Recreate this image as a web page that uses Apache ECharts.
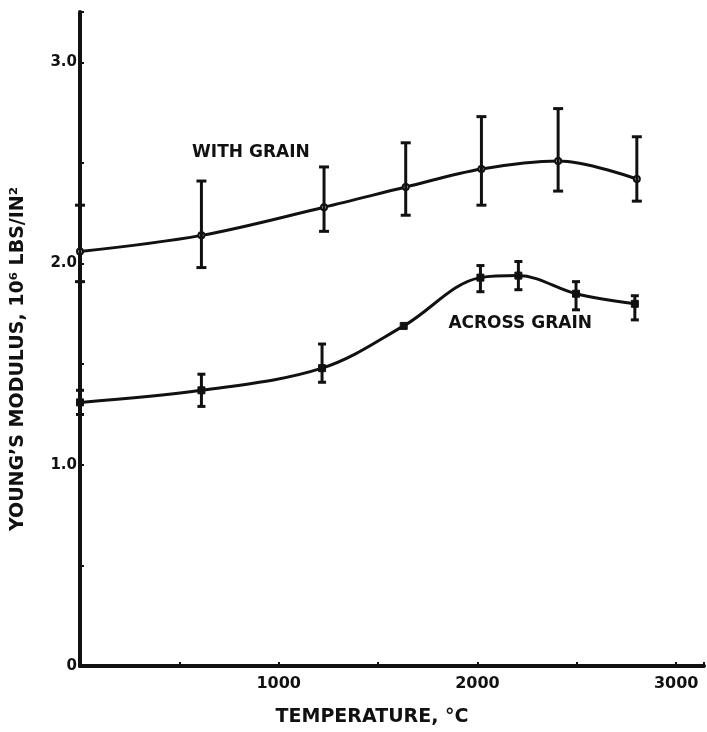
<!DOCTYPE html>
<html>
<head>
<meta charset="utf-8">
<script src="https://cdn.jsdelivr.net/npm/echarts@6/dist/echarts.min.js"></script>
<style>
html,body{margin:0;padding:0;background:#fff;}
#chart{width:707px;height:732px;}
</style>
</head>
<body>
<div id="chart"></div>
<script>
// ---- data ----
const withTemps = [0, 611, 1228, 1639, 2020, 2406, 2802];
const withVals  = [2.06, 2.14, 2.28, 2.38, 2.47, 2.51, 2.42];
const withHigh  = [2.29, 2.41, 2.48, 2.60, 2.73, 2.77, 2.63];
const withLow   = [1.91, 1.98, 2.16, 2.24, 2.29, 2.36, 2.31];

const acrossTemps = [0, 611, 1218, 1629, 2015, 2206, 2496, 2792];
const acrossVals  = [1.31, 1.37, 1.48, 1.69, 1.93, 1.94, 1.85, 1.80];
const acrossHigh  = [1.37, 1.45, 1.60, null, 1.99, 2.01, 1.91, 1.84];
const acrossLow   = [1.25, 1.29, 1.41, null, 1.86, 1.87, 1.77, 1.72];

const xTickLabels = {1000: '1000', 2000: '2000', 3000: '3000'};
const yTickLabels = {0: '0', 1: '1.0', 2: '2.0', 3: '3.0'};

const curveLabels = ['WITH GRAIN', 'ACROSS GRAIN'];
const curveLabelPos = [[860, 2.55], [2215, 1.70]];

const xTitle = 'TEMPERATURE, °C';
const yTitle = 'YOUNG\u2019S MODULUS, 10\u2076 LBS/IN\u00B2';

// ---- chart ----
const INK = '#111111';
const FONT = '"DejaVu Sans", sans-serif';

function pairs(xs, ys) { return xs.map((x, i) => [x, ys[i]]); }
function errData(xs, lo, hi) {
  const out = [];
  xs.forEach((x, i) => { if (lo[i] != null) out.push([x, lo[i], hi[i]]); });
  return out;
}
function errRender(capHalf) {
  return function (params, api) {
    const top = api.coord([api.value(0), api.value(2)]);
    const bot = api.coord([api.value(0), api.value(1)]);
    const st = {stroke: INK, lineWidth: 3};
    return {
      type: 'group',
      children: [
        {type: 'line', shape: {x1: top[0], y1: top[1], x2: bot[0], y2: bot[1]}, style: st},
        {type: 'line', shape: {x1: top[0] - capHalf, y1: top[1], x2: top[0] + capHalf, y2: top[1]}, style: st},
        {type: 'line', shape: {x1: bot[0] - capHalf, y1: bot[1], x2: bot[0] + capHalf, y2: bot[1]}, style: st}
      ]
    };
  };
}

const chart = echarts.init(document.getElementById('chart'), null, {renderer: 'canvas'});
chart.setOption({
  backgroundColor: '#ffffff',
  animation: false,
  grid: {left: 80, right: 0, top: 12, bottom: 62, containLabel: false},
  xAxis: {
    type: 'value', min: 0, max: 3140, interval: 500,
    axisLine: {lineStyle: {color: INK, width: 4}},
    axisTick: {show: true, inside: true, length: 4, lineStyle: {color: INK, width: 2}},
    splitLine: {show: false},
    axisLabel: {
      margin: 10, color: INK, fontFamily: FONT, fontWeight: 'bold', fontSize: 16,
      formatter: v => xTickLabels[v] || ''
    },
    name: xTitle, nameLocation: 'middle', nameGap: 42,
    nameTextStyle: {color: INK, fontFamily: FONT, fontWeight: 'bold', fontSize: 19, padding: [0, 40, 0, 0]}
  },
  yAxis: {
    type: 'value', min: 0, max: 3.25, interval: 0.5,
    axisLine: {show: true, lineStyle: {color: INK, width: 4}},
    axisTick: {show: true, inside: true, length: 4, lineStyle: {color: INK, width: 2}},
    splitLine: {show: false},
    axisLabel: {
      margin: 3, color: INK, fontFamily: FONT, fontWeight: 'bold', fontSize: 15,
      formatter: v => yTickLabels[v] || ''
    }
  },
  graphic: [{
    type: 'text',
    rotation: Math.PI / 2,
    x: 18, y: 359,
    style: {text: yTitle, fill: INK, font: 'bold 19px ' + FONT, align: 'center', verticalAlign: 'middle'}
  }],
  series: [
    {
      type: 'line', name: 'with', data: pairs(withTemps, withVals),
      smooth: 0.35, symbol: 'circle', symbolSize: 6, showSymbol: true,
      itemStyle: {color: '#fff', borderColor: INK, borderWidth: 2},
      lineStyle: {color: INK, width: 3}, z: 3
    },
    {
      type: 'line', name: 'across', data: pairs(acrossTemps, acrossVals),
      smooth: 0.35, symbol: 'rect', symbolSize: 7, showSymbol: true,
      itemStyle: {color: INK, borderColor: INK, borderWidth: 1},
      lineStyle: {color: INK, width: 3}, z: 3
    },
    {
      type: 'custom', name: 'withErr', renderItem: errRender(5),
      data: errData(withTemps, withLow, withHigh), encode: {x: 0, y: [1, 2]}, z: 4
    },
    {
      type: 'custom', name: 'acrossErr', renderItem: errRender(4),
      data: errData(acrossTemps, acrossLow, acrossHigh), encode: {x: 0, y: [1, 2]}, z: 4
    },
    {
      type: 'custom', name: 'curveLabels', silent: true,
      data: curveLabelPos.map((p, i) => [p[0], p[1], i]),
      encode: {x: 0, y: 1},
      renderItem: function (params, api) {
        const pt = api.coord([api.value(0), api.value(1)]);
        return {
          type: 'text', x: pt[0], y: pt[1],
          style: {text: curveLabels[api.value(2)], fill: INK, font: 'bold 17px ' + FONT,
            align: 'center', verticalAlign: 'middle'}
        };
      }, z: 5
    }
  ]
});
</script>
</body>
</html>
